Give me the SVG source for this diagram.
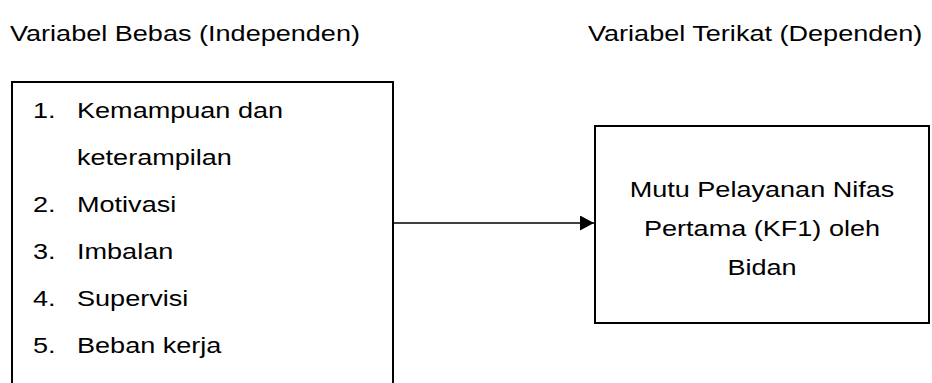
<svg xmlns="http://www.w3.org/2000/svg" width="932" height="383" viewBox="0 0 932 383">
  <defs>
    <style>
      text { font-family: "Liberation Sans", Arial, sans-serif; font-size: 22px; fill: #000; }
      .box { fill: #fff; stroke: #000; stroke-width: 2; }
      .edge { fill: none; stroke: #000; stroke-width: 1.3; }
      .mid { text-anchor: middle; }
    </style>
    <marker id="arrow" viewBox="0 0 14 15" refX="14" refY="7.5" markerWidth="14" markerHeight="15" markerUnits="userSpaceOnUse" orient="auto">
      <path d="M0,0 L14,7.5 L0,15 Z" fill="#000"/>
    </marker>
  </defs>

  <rect width="932" height="383" fill="#fff"/>

  <!-- column headings (type is set slightly wide) -->
  <g id="headings">
    <text transform="translate(10,41) scale(1.23,1)">Variabel Bebas (Independen)</text>
    <text transform="translate(588,41) scale(1.23,1)">Variabel Terikat (Dependen)</text>
  </g>

  <!-- independent variables (box runs off the bottom edge) -->
  <g id="independent">
    <path class="box" d="M12,384 L12,82 L393,82 L393,384"/>
    <text transform="translate(33,118) scale(1.23,1)">1.</text>
    <text transform="translate(77,118) scale(1.23,1)">Kemampuan dan</text>
    <text transform="translate(77,165) scale(1.23,1)">keterampilan</text>
    <text transform="translate(33,212) scale(1.23,1)">2.</text>
    <text transform="translate(77,212) scale(1.23,1)">Motivasi</text>
    <text transform="translate(33,259) scale(1.23,1)">3.</text>
    <text transform="translate(77,259) scale(1.23,1)">Imbalan</text>
    <text transform="translate(33,306) scale(1.23,1)">4.</text>
    <text transform="translate(77,306) scale(1.23,1)">Supervisi</text>
    <text transform="translate(33,353) scale(1.23,1)">5.</text>
    <text transform="translate(77,353) scale(1.23,1)">Beban kerja</text>
  </g>

  <!-- dependent variable -->
  <g id="dependent">
    <rect class="box" x="595" y="126" width="334" height="197"/>
    <text class="mid" transform="translate(762,197) scale(1.23,1)">Mutu Pelayanan Nifas</text>
    <text class="mid" transform="translate(762,236) scale(1.23,1)">Pertama (KF1) oleh</text>
    <text class="mid" transform="translate(762,275) scale(1.23,1)">Bidan</text>
  </g>

  <g id="connectors">
    <line class="edge" x1="393" y1="223" x2="594" y2="223" marker-end="url(#arrow)"/>
  </g>
</svg>
